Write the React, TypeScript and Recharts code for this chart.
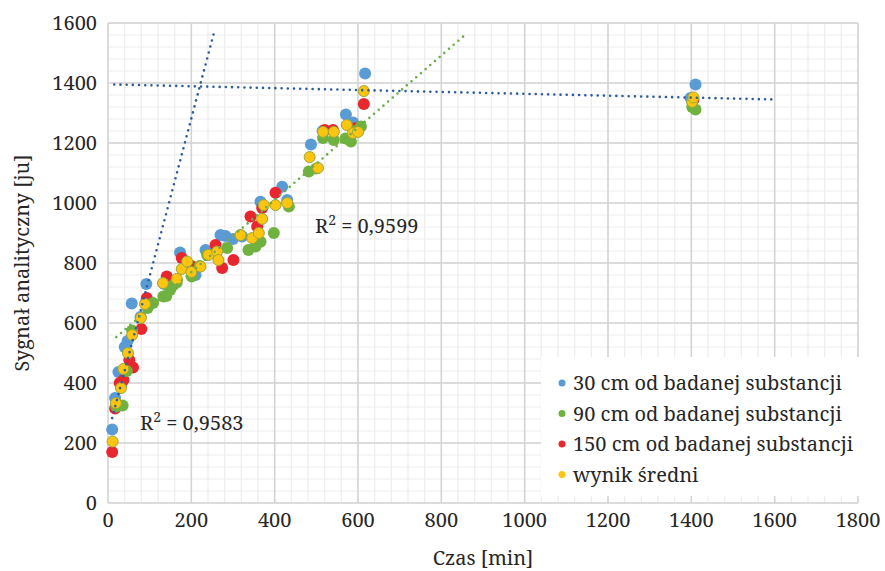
import {
  CartesianGrid,
  Label,
  Legend,
  ReferenceDot,
  Scatter,
  ScatterChart,
  XAxis,
  YAxis,
} from "recharts";

// [czas w min, sygnał w ju]
const pts30: [number, number][] = [
  [10, 245], [17, 350], [25, 437], [32, 395], [40, 520], [47, 540],
  [57, 665], [78, 620], [90, 665], [92, 730], [135, 730], [173, 835],
  [210, 760], [234, 843], [270, 893], [282, 890], [300, 880], [322, 888],
  [366, 1004], [418, 1054], [430, 1010], [487, 1195], [515, 1240],
  [571, 1295], [588, 1268], [600, 1240], [617, 1432], [1398, 1350],
  [1410, 1395],
];

const pts90: [number, number][] = [
  [20, 322], [35, 325], [45, 440], [58, 575], [95, 650], [108, 667],
  [133, 688], [140, 690], [149, 710], [157, 727], [165, 735], [201, 755],
  [220, 790], [238, 827], [286, 850], [318, 893], [337, 843], [354, 855],
  [366, 871], [398, 900], [434, 988], [482, 1105], [500, 1115],
  [516, 1217], [542, 1210], [570, 1215], [583, 1205], [595, 1240],
  [607, 1255], [1402, 1320], [1410, 1312],
];

const pts150: [number, number][] = [
  [10, 170], [17, 315], [28, 400], [37, 410], [51, 477], [60, 452],
  [80, 580], [93, 683], [141, 755], [177, 817], [200, 790], [258, 860],
  [274, 783], [301, 810], [342, 955], [358, 922], [370, 983], [402, 1034],
  [520, 1243], [540, 1243], [595, 1250], [614, 1330], [1405, 1345],
];

const ptsAvg: [number, number][] = [
  [11, 205], [19, 333], [31, 383], [37, 447], [48, 500], [58, 560],
  [79, 617], [89, 663], [132, 733], [165, 747], [177, 780], [190, 805],
  [200, 770], [222, 788], [241, 827], [262, 838], [265, 810], [318, 893],
  [346, 883], [362, 900], [370, 947], [374, 993], [402, 993], [430, 1000],
  [484, 1153], [504, 1117], [516, 1237], [542, 1237], [573, 1260],
  [588, 1233], [600, 1237], [614, 1373], [1402, 1337], [1405, 1352],
];

// końce linii trendu
const trendEarly: [number, number][] = [[10, 283], [254, 1566]];
const trendMiddle: [number, number][] = [[20, 553], [855, 1558]];
const trendPlateau: [number, number][] = [[15, 1395], [1600, 1345]];

const xTicks = [0, 200, 400, 600, 800, 1000, 1200, 1400, 1600, 1800];
const yTicks = [0, 200, 400, 600, 800, 1000, 1200, 1400, 1600];
const xMinor = Array.from({ length: 46 }, (_, i) => i * 40);
const yMinor = Array.from({ length: 41 }, (_, i) => i * 40);

const FONT = '"Noto Serif"';
const TEXT = "#262626";
const txt = { fontFamily: FONT, fontSize: 20 };

const BLUE = "#5b9bd5";
const GREEN = "#6fb240";
const RED = "#e8262d";
const YELLOW = "#fdc50f";

const series = [
  { name: "30 cm od badanej substancji", color: BLUE, data: pts30 },
  { name: "90 cm od badanej substancji", color: GREEN, data: pts90 },
  { name: "150 cm od badanej substancji", color: RED, data: pts150 },
  { name: "wynik średni", color: YELLOW, data: ptsAvg },
];

const toXY = (pts: [number, number][]) => pts.map(([x, y]) => ({ x, y }));

const dot = (fill: string, r: number, stroke = "none") => (p: any) => (
  <circle cx={p.cx} cy={p.cy} r={r} fill={fill} stroke={stroke} strokeWidth={1} />
);

const noShape = () => <g />;

const dotted = (stroke: string) => ({
  stroke,
  strokeWidth: 2.6,
  strokeDasharray: "0 6.2",
  strokeLinecap: "round" as const,
});

function SerifText({ children, ...rest }: any) {
  return (
    <text fill={TEXT} style={txt} {...rest}>
      {children}
    </text>
  );
}

const xTick = (p: any) => (
  <SerifText x={p.x} y={p.y} dy="0.75em" textAnchor="middle">
    {String(p.payload.value)}
  </SerifText>
);

const yTick = (p: any) => (
  <SerifText x={p.x} y={p.y} dy="0.35em" textAnchor="end">
    {String(p.payload.value)}
  </SerifText>
);

const xTitle = (p: any) => {
  const { x, y, width } = p.viewBox;
  return (
    <SerifText x={x + width / 2} y={y + 62} textAnchor="middle">
      Czas [min]
    </SerifText>
  );
};

const yTitle = (p: any) => {
  const { y, height } = p.viewBox;
  const cx = 29;
  const cy = y + height / 2;
  return (
    <SerifText x={cx} y={cy} textAnchor="middle" transform={`rotate(-90, ${cx}, ${cy})`}>
      Sygnał analityczny [ju]
    </SerifText>
  );
};

function r2Label(value: string) {
  return (p: any) => (
    <text x={p.viewBox.x} y={p.viewBox.y} style={txt} fill={TEXT}>
      R
      <tspan dy={-8} style={{ fontSize: 14 }}>2</tspan>
      <tspan dy={8}>{` = ${value}`}</tspan>
    </text>
  );
}

function LegendBox() {
  return (
    <svg width={318} height={139} style={{ overflow: "visible" }}>
      <rect width={318} height={139} fill="#fff" />
      {series.map((s, i) => (
        <g key={s.name}>
          <circle cx={21} cy={26 + i * 30.5} r={3.5} fill={s.color} />
          <SerifText x={32} y={26 + i * 30.5} dy="0.35em">
            {s.name}
          </SerifText>
        </g>
      ))}
    </svg>
  );
}

export default function App() {
  const [s30, s90, s150, sAvg] = series;

  return (
    <div style={{ position: "fixed", left: 0, top: 0, background: "#fff" }}>
      <ScatterChart width={885} height={571} margin={{ top: 23, right: 27, bottom: 0, left: 0 }}>
        <CartesianGrid stroke="#ededed" strokeWidth={1.2} verticalValues={xMinor} horizontalValues={yMinor} />
        <CartesianGrid stroke="#d3d3d3" strokeWidth={1.5} verticalValues={xTicks} horizontalValues={yTicks} />
        <XAxis
          type="number"
          dataKey="x"
          domain={[0, 1800]}
          ticks={xTicks}
          interval={0}
          tickLine={false}
          axisLine={false}
          tickSize={0}
          tickMargin={9}
          height={68}
          tick={xTick}
        >
          <Label content={xTitle} />
        </XAxis>
        <YAxis
          type="number"
          dataKey="y"
          domain={[0, 1600]}
          ticks={yTicks}
          interval={0}
          tickLine={false}
          axisLine={false}
          tickSize={0}
          tickMargin={11}
          width={108}
          tick={yTick}
        >
          <Label content={yTitle} />
        </YAxis>

        <Scatter name={s30.name} data={toXY(s30.data)} fill={BLUE} shape={dot(BLUE, 6)} isAnimationActive={false} />
        <Scatter name={s150.name} data={toXY(s150.data)} fill={RED} shape={dot(RED, 6)} isAnimationActive={false} />
        <Scatter name={s90.name} data={toXY(s90.data)} fill={GREEN} shape={dot(GREEN, 6)} isAnimationActive={false} />
        <Scatter
          name={sAvg.name}
          data={toXY(sAvg.data)}
          fill={YELLOW}
          shape={dot(YELLOW, 5.5, "#9aa83a")}
          isAnimationActive={false}
        />

        <Scatter data={toXY(trendEarly)} line={dotted("#2f5c9a")} shape={noShape} legendType="none" isAnimationActive={false} />
        <Scatter data={toXY(trendPlateau)} line={dotted("#2f5c9a")} shape={noShape} legendType="none" isAnimationActive={false} />
        <Scatter data={toXY(trendMiddle)} line={dotted("#70ad47")} shape={noShape} legendType="none" isAnimationActive={false} />

        <ReferenceDot x={497} y={900} r={0} fill="none" stroke="none" label={r2Label("0,9599")} />
        <ReferenceDot x={77} y={243} r={0} fill="none" stroke="none" label={r2Label("0,9583")} />

        <Legend
          layout="vertical"
          align="center"
          verticalAlign="middle"
          wrapperStyle={{ left: 541, top: 357, width: 318, height: 139 }}
          content={() => <LegendBox />}
        />
      </ScatterChart>
    </div>
  );
}
